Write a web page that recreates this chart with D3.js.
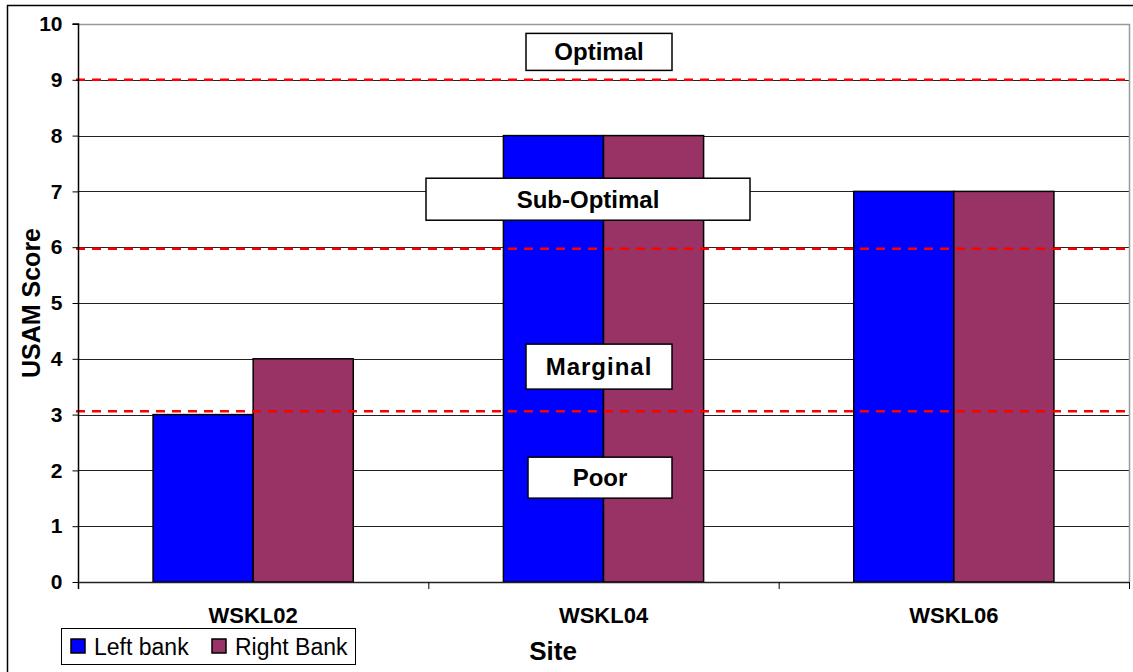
<!DOCTYPE html>
<html><head><meta charset="utf-8">
<script src="https://cdn.jsdelivr.net/npm/d3@7"></script>
<style>body{margin:0;background:#fff}svg{display:block;font-family:"Liberation Sans",Arial,sans-serif}</style>
</head><body><svg id="c" width="1133" height="672"></svg>
<script>
const categories = ["WSKL02","WSKL04","WSKL06"];
const seriesNames = ["Left bank","Right Bank"];
const leftBank = [3, 8, 7];
const rightBank = [4, 8, 7];
const yTicks = [0,1,2,3,4,5,6,7,8,9,10];
const thresholds = [9, 5.97, 3.06];
const zoneLabels = ["Optimal","Sub-Optimal","Marginal","Poor"];
const zoneValues = [9.5, 6.86, 3.86, 1.87];
const colors = ["#0000FF","#993366"];

const svg = d3.select("#c");
const W=1133,H=672;
const m = {l:78, r:1129, t:24, b:582};
const x = d3.scaleBand().domain(categories).range([m.l, m.r]);
const x1 = d3.scaleBand().domain(seriesNames).range([0, x.bandwidth()]).paddingOuter(0.75);
const y = d3.scaleLinear().domain([0,10]).range([m.b, m.t]);

// outer frame
svg.append("rect").attr("x",7.5).attr("y",5.5).attr("width",W+5).attr("height",H+5)
  .attr("fill","#fff").attr("stroke","#000").attr("stroke-width",1.5);

// gridlines
svg.append("g").selectAll("line").data(yTicks.filter(t=>t>0&&t<10)).join("line")
  .attr("x1",m.l).attr("x2",m.r).attr("y1",d=>Math.round(y(d))+0.5).attr("y2",d=>Math.round(y(d))+0.5)
  .attr("stroke","#222").attr("stroke-width",1);
// plot border top/right
svg.append("path").attr("d",`M${m.l},${y(10)+0.5}H${m.r+0.5}V${m.b}`).attr("fill","none").attr("stroke","#999").attr("stroke-width",1.5);

// bars
const data = categories.map((c,i)=>({c, vals:[leftBank[i], rightBank[i]]}));
const g = svg.append("g");
data.forEach(d=>{
  d.vals.forEach((v,j)=>{
    g.append("rect").attr("x",x(d.c)+x1(seriesNames[j])).attr("width",x1.bandwidth())
      .attr("y",y(v)).attr("height",y(0)-y(v)).attr("fill",colors[j]).attr("stroke","#000").attr("stroke-width",1.5);
  });
});

// threshold dashed lines
svg.append("g").selectAll("line").data(thresholds).join("line")
  .attr("x1",m.l-2).attr("x2",m.r).attr("y1",d=>y(d)).attr("y2",d=>y(d))
  .attr("stroke","#FF0000").attr("stroke-width",2.5).attr("stroke-dasharray","9,7");

// y axis
const yAxis = d3.axisLeft(y).tickValues(yTicks).tickSize(6).tickPadding(10).tickFormat(d3.format("d"));
const ya = svg.append("g").attr("transform",`translate(${m.l+0.5},0)`).call(yAxis);
ya.select(".domain").attr("stroke","#000").attr("stroke-width",1.5).attr("d",`M-6,${y(10)}H0V${y(0)+7}`);
ya.selectAll(".tick line").attr("stroke","#000");
ya.selectAll("text").attr("font-size",21).attr("font-weight","bold").attr("fill","#000").attr("font-family","Liberation Sans, Arial");

// x axis line
svg.append("line").attr("x1",m.l).attr("x2",m.r).attr("y1",y(0)+0.5).attr("y2",y(0)+0.5).attr("stroke","#222").attr("stroke-width",1.5);
// x tick marks at band boundaries
svg.append("g").selectAll("line").data(categories.slice(1).map(c=>x(c)).concat([m.r])).join("line")
  .attr("x1",d=>d+0.5).attr("x2",d=>d+0.5).attr("y1",y(0)).attr("y2",y(0)+7).attr("stroke","#000");
// x labels
svg.append("g").selectAll("text").data(categories).join("text")
  .attr("x",d=>x(d)+x.bandwidth()/2).attr("y",623).attr("text-anchor","middle")
  .attr("font-size",22).attr("font-weight","bold").text(d=>d);

// axis titles
svg.append("text").attr("transform","translate(40,303) rotate(-90)").attr("text-anchor","middle")
  .attr("font-size",25).attr("font-weight","bold").text("USAM Score");
svg.append("text").attr("x",553).attr("y",660).attr("text-anchor","middle")
  .attr("font-size",26).attr("font-weight","bold").text("Site");

// zone label boxes
const boxW = [146,324,146,144];
const boxH = [37,42,45,41];
const boxCx = [599,588,599,600];
zoneLabels.forEach((t,i)=>{
  const cy = y(zoneValues[i]);
  svg.append("rect").attr("x",boxCx[i]-boxW[i]/2).attr("y",cy-boxH[i]/2).attr("width",boxW[i]).attr("height",boxH[i])
    .attr("fill","#fff").attr("stroke","#000").attr("stroke-width",1.5);
  svg.append("text").attr("x",boxCx[i]).attr("y",cy+8.5).attr("text-anchor","middle")
    .attr("font-size",24).attr("font-weight","bold").attr("letter-spacing", t==="Marginal"?1:0).text(t);
});

// legend
const lg = svg.append("g");
lg.append("rect").attr("x",61.5).attr("y",628.5).attr("width",294).attr("height",36).attr("fill","#fff").attr("stroke","#000").attr("stroke-width",1);
const lx = [71, 212];
seriesNames.forEach((s,i)=>{
  lg.append("rect").attr("x",lx[i]).attr("y",639).attr("width",14).attr("height",14).attr("fill",colors[i]).attr("stroke","#000").attr("stroke-width",1.5);
  lg.append("text").attr("x",lx[i]+23).attr("y",655).attr("font-size",23).text(s);
});
</script></body></html>
